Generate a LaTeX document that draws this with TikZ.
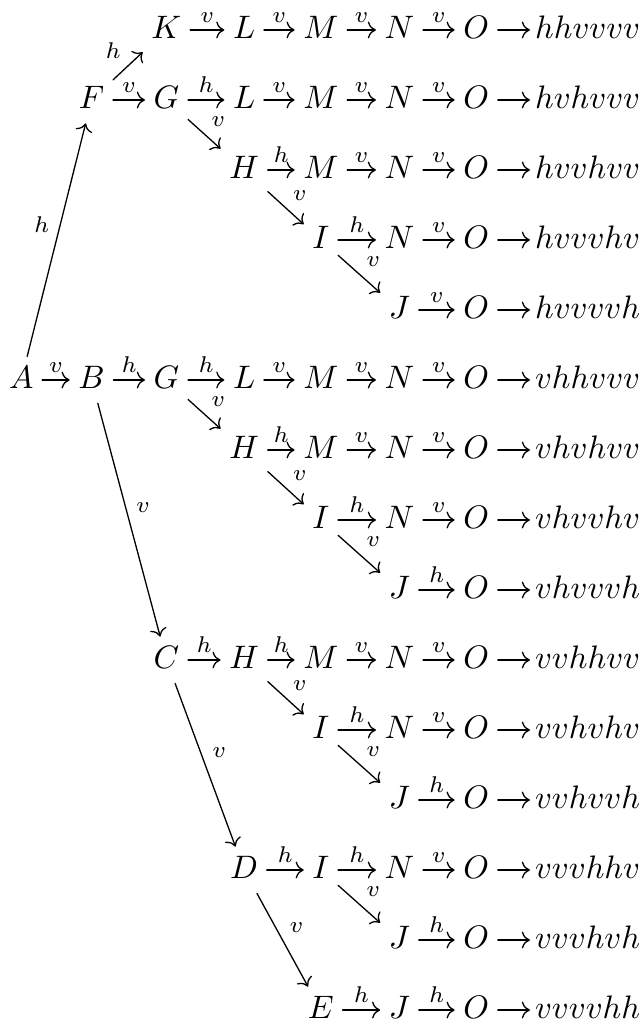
\documentclass[tikz,border=0pt]{standalone}
\usetikzlibrary{arrows.meta}
\tikzset{
  cell/.style={anchor=base, inner sep=2.5pt, text height=7pt, text depth=2pt},
  word/.style={cell, anchor=base west, inner xsep=1.4pt},
  lbl/.style={auto, font=\scriptsize, inner sep=2pt},
}
\begin{document}
\begin{tikzpicture}[x=1cm, y=0.757cm, >=To, line cap=round, line join=round]
  \useasboundingbox (0cm,-0.02cm) rectangle (6.91cm,11.01cm);
  \node[cell] (K1) at (1.80,14) {$K$};
  \node[cell] (L1) at (2.64,14) {$L$};
  \node[cell] (M1) at (3.47,14) {$M$};
  \node[cell] (N1) at (4.32,14) {$N$};
  \node[cell] (O1) at (5.15,14) {$O$};
  \node[word] (w1) at (5.73,14) {$hhvvvv$};
  \node[cell] (F) at (0.99,13) {$F$};
  \node[cell] (G2) at (1.80,13) {$G$};
  \node[cell] (L2) at (2.64,13) {$L$};
  \node[cell] (M2) at (3.47,13) {$M$};
  \node[cell] (N2) at (4.32,13) {$N$};
  \node[cell] (O2) at (5.15,13) {$O$};
  \node[word] (w2) at (5.73,13) {$hvhvvv$};
  \node[cell] (H3) at (2.64,12) {$H$};
  \node[cell] (M3) at (3.47,12) {$M$};
  \node[cell] (N3) at (4.32,12) {$N$};
  \node[cell] (O3) at (5.15,12) {$O$};
  \node[word] (w3) at (5.73,12) {$hvvhvv$};
  \node[cell] (I4) at (3.47,11) {$I$};
  \node[cell] (N4) at (4.32,11) {$N$};
  \node[cell] (O4) at (5.15,11) {$O$};
  \node[word] (w4) at (5.73,11) {$hvvvhv$};
  \node[cell] (J5) at (4.32,10) {$J$};
  \node[cell] (O5) at (5.15,10) {$O$};
  \node[word] (w5) at (5.73,10) {$hvvvvh$};
  \node[cell] (A) at (0.23,9) {$A$};
  \node[cell] (B) at (0.99,9) {$B$};
  \node[cell] (G6) at (1.80,9) {$G$};
  \node[cell] (L6) at (2.64,9) {$L$};
  \node[cell] (M6) at (3.47,9) {$M$};
  \node[cell] (N6) at (4.32,9) {$N$};
  \node[cell] (O6) at (5.15,9) {$O$};
  \node[word] (w6) at (5.73,9) {$vhhvvv$};
  \node[cell] (H7) at (2.64,8) {$H$};
  \node[cell] (M7) at (3.47,8) {$M$};
  \node[cell] (N7) at (4.32,8) {$N$};
  \node[cell] (O7) at (5.15,8) {$O$};
  \node[word] (w7) at (5.73,8) {$vhvhvv$};
  \node[cell] (I8) at (3.47,7) {$I$};
  \node[cell] (N8) at (4.32,7) {$N$};
  \node[cell] (O8) at (5.15,7) {$O$};
  \node[word] (w8) at (5.73,7) {$vhvvhv$};
  \node[cell] (J9) at (4.32,6) {$J$};
  \node[cell] (O9) at (5.15,6) {$O$};
  \node[word] (w9) at (5.73,6) {$vhvvvh$};
  \node[cell] (C) at (1.80,5) {$C$};
  \node[cell] (H10) at (2.64,5) {$H$};
  \node[cell] (M10) at (3.47,5) {$M$};
  \node[cell] (N10) at (4.32,5) {$N$};
  \node[cell] (O10) at (5.15,5) {$O$};
  \node[word] (w10) at (5.73,5) {$vvhhvv$};
  \node[cell] (I11) at (3.47,4) {$I$};
  \node[cell] (N11) at (4.32,4) {$N$};
  \node[cell] (O11) at (5.15,4) {$O$};
  \node[word] (w11) at (5.73,4) {$vvhvhv$};
  \node[cell] (J12) at (4.32,3) {$J$};
  \node[cell] (O12) at (5.15,3) {$O$};
  \node[word] (w12) at (5.73,3) {$vvhvvh$};
  \node[cell] (D) at (2.64,2) {$D$};
  \node[cell] (I13) at (3.47,2) {$I$};
  \node[cell] (N13) at (4.32,2) {$N$};
  \node[cell] (O13) at (5.15,2) {$O$};
  \node[word] (w13) at (5.73,2) {$vvvhhv$};
  \node[cell] (J14) at (4.32,1) {$J$};
  \node[cell] (O14) at (5.15,1) {$O$};
  \node[word] (w14) at (5.73,1) {$vvvhvh$};
  \node[cell] (E) at (3.47,0) {$E$};
  \node[cell] (J15) at (4.32,0) {$J$};
  \node[cell] (O15) at (5.15,0) {$O$};
  \node[word] (w15) at (5.73,0) {$vvvvhh$};
  \draw[->] (A) -- node[lbl] {$h$} (F);
  \draw[->] (A) -- node[lbl] {$v$} (B);
  \draw[->] (B) -- node[lbl] {$h$} (G6);
  \draw[->] (B) -- node[lbl] {$v$} (C);
  \draw[->] (C) -- node[lbl] {$v$} (D);
  \draw[->] (D) -- node[lbl] {$v$} (E);
  \draw[->] (F) -- node[lbl] {$h$} (K1);
  \draw[->] (F) -- node[lbl] {$v$} (G2);
  \draw[->] (K1) -- node[lbl] {$v$} (L1);
  \draw[->] (L1) -- node[lbl] {$v$} (M1);
  \draw[->] (M1) -- node[lbl] {$v$} (N1);
  \draw[->] (N1) -- node[lbl] {$v$} (O1);
  \draw[->] (O1) -- (w1);
  \draw[->] (G2) -- node[lbl] {$h$} (L2);
  \draw[->] (L2) -- node[lbl] {$v$} (M2);
  \draw[->] (M2) -- node[lbl] {$v$} (N2);
  \draw[->] (N2) -- node[lbl] {$v$} (O2);
  \draw[->] (O2) -- (w2);
  \draw[->] (G2) -- node[lbl] {$v$} (H3);
  \draw[->] (H3) -- node[lbl] {$h$} (M3);
  \draw[->] (M3) -- node[lbl] {$v$} (N3);
  \draw[->] (N3) -- node[lbl] {$v$} (O3);
  \draw[->] (O3) -- (w3);
  \draw[->] (H3) -- node[lbl] {$v$} (I4);
  \draw[->] (I4) -- node[lbl] {$h$} (N4);
  \draw[->] (N4) -- node[lbl] {$v$} (O4);
  \draw[->] (O4) -- (w4);
  \draw[->] (I4) -- node[lbl] {$v$} (J5);
  \draw[->] (J5) -- node[lbl] {$v$} (O5);
  \draw[->] (O5) -- (w5);
  \draw[->] (G6) -- node[lbl] {$h$} (L6);
  \draw[->] (L6) -- node[lbl] {$v$} (M6);
  \draw[->] (M6) -- node[lbl] {$v$} (N6);
  \draw[->] (N6) -- node[lbl] {$v$} (O6);
  \draw[->] (O6) -- (w6);
  \draw[->] (G6) -- node[lbl] {$v$} (H7);
  \draw[->] (H7) -- node[lbl] {$h$} (M7);
  \draw[->] (M7) -- node[lbl] {$v$} (N7);
  \draw[->] (N7) -- node[lbl] {$v$} (O7);
  \draw[->] (O7) -- (w7);
  \draw[->] (H7) -- node[lbl] {$v$} (I8);
  \draw[->] (I8) -- node[lbl] {$h$} (N8);
  \draw[->] (N8) -- node[lbl] {$v$} (O8);
  \draw[->] (O8) -- (w8);
  \draw[->] (I8) -- node[lbl] {$v$} (J9);
  \draw[->] (J9) -- node[lbl] {$h$} (O9);
  \draw[->] (O9) -- (w9);
  \draw[->] (C) -- node[lbl] {$h$} (H10);
  \draw[->] (H10) -- node[lbl] {$h$} (M10);
  \draw[->] (M10) -- node[lbl] {$v$} (N10);
  \draw[->] (N10) -- node[lbl] {$v$} (O10);
  \draw[->] (O10) -- (w10);
  \draw[->] (H10) -- node[lbl] {$v$} (I11);
  \draw[->] (I11) -- node[lbl] {$h$} (N11);
  \draw[->] (N11) -- node[lbl] {$v$} (O11);
  \draw[->] (O11) -- (w11);
  \draw[->] (I11) -- node[lbl] {$v$} (J12);
  \draw[->] (J12) -- node[lbl] {$h$} (O12);
  \draw[->] (O12) -- (w12);
  \draw[->] (D) -- node[lbl] {$h$} (I13);
  \draw[->] (I13) -- node[lbl] {$h$} (N13);
  \draw[->] (N13) -- node[lbl] {$v$} (O13);
  \draw[->] (O13) -- (w13);
  \draw[->] (I13) -- node[lbl] {$v$} (J14);
  \draw[->] (J14) -- node[lbl] {$h$} (O14);
  \draw[->] (O14) -- (w14);
  \draw[->] (E) -- node[lbl] {$h$} (J15);
  \draw[->] (J15) -- node[lbl] {$h$} (O15);
  \draw[->] (O15) -- (w15);
\end{tikzpicture}
\end{document}
